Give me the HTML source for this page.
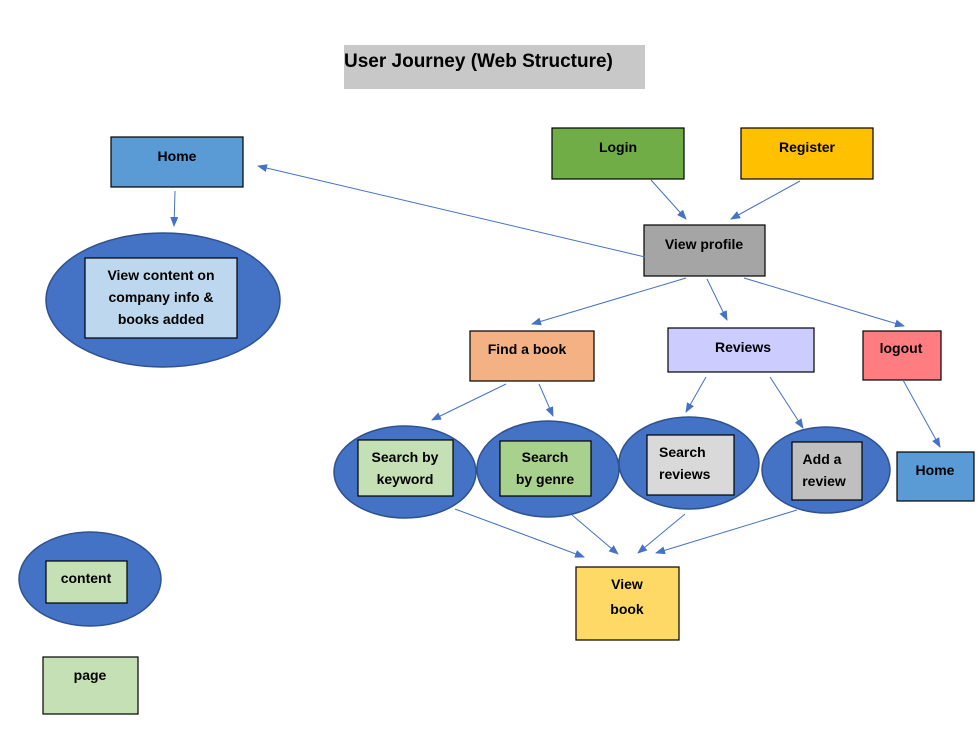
<!DOCTYPE html>
<html><head><meta charset="utf-8">
<style>
html,body{margin:0;padding:0;background:#fff;}
svg{display:block;}
text{font-family:"Liberation Sans",sans-serif;font-weight:bold;font-size:14px;fill:#000;}
</style></head>
<body>
<svg width="980" height="731" viewBox="0 0 980 731" xmlns="http://www.w3.org/2000/svg">
<defs>
<marker id="a" markerWidth="10" markerHeight="8" refX="9" refY="4" orient="auto" markerUnits="userSpaceOnUse">
<path d="M0,0 L10,4 L0,8 z" fill="#4472c4"/>
</marker>
</defs>
<rect width="980" height="731" fill="#fff"/>
<!-- title -->
<rect x="344" y="45" width="301" height="44" fill="#c8c8c8"/>
<text x="344" y="67" style="font-size:19px">User Journey (Web Structure)</text>

<g stroke="#000" stroke-width="1.2">
<rect x="111" y="137" width="132" height="50" fill="#5b9bd5"/>
<rect x="552" y="128" width="132" height="51" fill="#70ad47"/>
<rect x="741" y="128" width="132" height="51" fill="#ffc000"/>
<rect x="644" y="225" width="121" height="51" fill="#a5a5a5"/>
<rect x="470" y="331" width="124" height="50" fill="#f4b183"/>
<rect x="668" y="328" width="146" height="44" fill="#ccccff"/>
<rect x="863" y="331" width="78" height="49" fill="#ff7c80"/>
<rect x="897" y="452" width="77" height="49" fill="#5b9bd5"/>
<rect x="576" y="567" width="103" height="73" fill="#ffd966"/>
<rect x="43" y="657" width="95" height="57" fill="#c5e0b4"/>
</g>
<g fill="#4472c4" stroke="#2f528f" stroke-width="1.5">
<ellipse cx="163" cy="300" rx="117" ry="67"/>
<ellipse cx="405" cy="472" rx="71" ry="46"/>
<ellipse cx="548" cy="469" rx="71" ry="48"/>
<ellipse cx="689" cy="463" rx="70" ry="46"/>
<ellipse cx="826" cy="470" rx="64" ry="43"/>
<ellipse cx="90" cy="579" rx="71" ry="47"/>
</g>
<g stroke="#000" stroke-width="1.2">
<rect x="85" y="258" width="152" height="80" fill="#bdd7ee"/>
<rect x="358" y="440" width="95" height="56" fill="#c5e0b4"/>
<rect x="500" y="441" width="91" height="55" fill="#a9d18e"/>
<rect x="647" y="435" width="87" height="60" fill="#d9d9d9"/>
<rect x="792" y="442" width="70" height="58" fill="#bfbfbf"/>
<rect x="46" y="561" width="81" height="42" fill="#c5e0b4"/>
</g>

<g stroke="#4472c4" stroke-width="1" marker-end="url(#a)">
<line x1="175" y1="191" x2="174" y2="226"/>
<line x1="645" y1="257" x2="258" y2="166"/>
<line x1="651" y1="180" x2="686" y2="219"/>
<line x1="800" y1="181" x2="731" y2="219"/>
<line x1="686" y1="278" x2="532" y2="324"/>
<line x1="707" y1="279" x2="727" y2="320"/>
<line x1="744" y1="278" x2="904" y2="326"/>
<line x1="506" y1="384" x2="432" y2="420"/>
<line x1="539" y1="384" x2="553" y2="416"/>
<line x1="706" y1="377" x2="686" y2="412"/>
<line x1="770" y1="377" x2="803" y2="428"/>
<line x1="903" y1="380" x2="940" y2="447"/>
<line x1="455" y1="509" x2="584" y2="557"/>
<line x1="572" y1="515" x2="618" y2="554"/>
<line x1="685" y1="514" x2="638" y2="553"/>
<line x1="797" y1="510" x2="656" y2="553"/>
</g>

<g text-anchor="middle">
<text x="177" y="161">Home</text>
<text x="618" y="152">Login</text>
<text x="807" y="152">Register</text>
<text x="704" y="249">View profile</text>
<text x="527" y="354">Find a book</text>
<text x="743" y="352">Reviews</text>
<text x="901" y="353">logout</text>
<text x="935" y="475">Home</text>
<text x="627" y="589">View</text>
<text x="627" y="614">book</text>
<text x="161" y="280">View content on</text>
<text x="161" y="302">company info &amp;</text>
<text x="161" y="324">books added</text>
<text x="405" y="462">Search by</text>
<text x="405" y="484">keyword</text>
<text x="545" y="462">Search</text>
<text x="545" y="484">by genre</text>
<text x="822" y="464">Add a</text>
<text x="824" y="486">review</text>
<text x="86" y="583">content</text>
<text x="90" y="680">page</text>
</g>
<text x="659" y="457">Search</text>
<text x="659" y="479">reviews</text>
</svg>
</body></html>
